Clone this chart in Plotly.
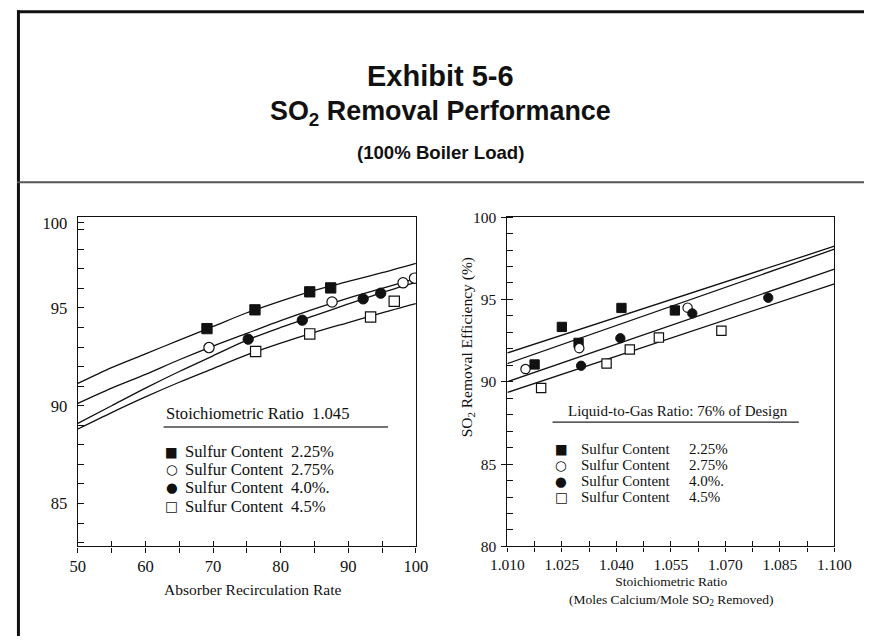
import plotly.graph_objects as go

W, H = 882, 644

# ---------------- Left chart data (Stoichiometric ratio 1.045) ----------------
rate_225 = [69.1, 76.2, 84.3, 87.4]
eff_225 = [93.94, 94.90, 95.82, 96.02]
rate_275 = [69.4, 87.6, 98.1, 99.8]
eff_275 = [92.97, 95.30, 96.28, 96.52]
rate_40 = [75.2, 83.2, 92.2, 94.8]
eff_40 = [93.40, 94.37, 95.46, 95.75]
rate_45 = [76.3, 84.3, 93.3, 96.8]
eff_45 = [92.77, 93.67, 94.53, 95.34]

curve_rate = [50, 55, 60, 65, 70, 75, 80, 85, 90, 95, 100]
curve_225 = [91.14, 91.95, 92.65, 93.35, 94.05, 94.75, 95.35, 95.90, 96.35, 96.80, 97.28]
curve_275 = [90.12, 90.90, 91.60, 92.35, 93.05, 93.70, 94.35, 94.95, 95.50, 96.00, 96.50]
curve_40 = [89.10, 90.00, 90.90, 91.75, 92.55, 93.35, 94.00, 94.60, 95.20, 95.78, 96.30]
curve_45 = [88.81, 89.65, 90.45, 91.20, 91.90, 92.60, 93.20, 93.75, 94.25, 94.75, 95.22]

# ---------------- Right chart data (L/G ratio 76% of design) ----------------
sr_225 = [1.0175, 1.0250, 1.0296, 1.0414, 1.0561]
e2_225 = [91.05, 93.33, 92.36, 94.48, 94.33]
sr_275 = [1.0150, 1.0298, 1.0596]
e2_275 = [90.77, 92.04, 94.50]
sr_40 = [1.0303, 1.0411, 1.0609, 1.0818]
e2_40 = [90.97, 92.64, 94.15, 95.10]
sr_45 = [1.0193, 1.0373, 1.0437, 1.0517, 1.0689]
e2_45 = [89.62, 91.11, 91.96, 92.68, 93.10]

fit_sr = [1.010, 1.100]
fit_225 = [91.75, 98.23]
fit_275 = [91.10, 98.05]
fit_40 = [90.00, 96.84]
fit_45 = [89.35, 95.95]

# ---------------- Tick labels ----------------
left_xlabels = [50, 60, 70, 80, 90, 100]
left_xticks = [50, 55, 60, 65, 70, 75, 80, 85, 90, 95, 100]
left_yticks = [85, 90, 95, 99.35]
left_ytext = ["85", "90", "95", "100"]
right_xlabels = [1.010, 1.025, 1.040, 1.055, 1.070, 1.085, 1.100]
right_xtext = ["1.010", "1.025", "1.040", "1.055", "1.070", "1.085", "1.100"]
right_xticks = [1.010, 1.0175, 1.025, 1.0325, 1.040, 1.0475, 1.055, 1.0625,
                1.070, 1.0775, 1.085, 1.0925, 1.100]
right_yticks = [80, 85, 90, 95, 100]

legend_values = ["2.25%", "2.75%", "4.0%.", "4.5%"]
legend_glyphs = ["\u25A0", "\u25CB", "\u25CF", "\u25A1"]

SERIF = "Liberation Serif, Times New Roman, serif"
SANS = "Liberation Sans, Arial, sans-serif"
BLACK = "#111111"

# The photographed page appears slightly shrunk; place items by their target
# picture position and convert back to page pixels.
SX, OX = 0.963, 16.0
SY, OY = 0.977, 7.2
FS = 1.035  # font/marker compensation


def px(X):
    return max(0.0, min(1.0, ((X - OX) / SX) / W))


def py(Y):
    return max(0.0, min(1.0, 1 - ((Y - OY) / SY) / H))


def fs(s):
    return round(s * FS, 1)


fig = go.Figure()

styles = [
    dict(symbol="square", color=BLACK, line=dict(color=BLACK, width=1)),
    dict(symbol="circle", color="white", line=dict(color=BLACK, width=1.2)),
    dict(symbol="circle", color=BLACK, line=dict(color=BLACK, width=1)),
    dict(symbol="square", color="white", line=dict(color=BLACK, width=1.2)),
]

for cyv in [curve_225, curve_275, curve_40, curve_45]:
    fig.add_trace(go.Scatter(x=curve_rate, y=cyv, mode="lines", xaxis="x", yaxis="y",
                             line=dict(color=BLACK, width=1.3, shape="spline", smoothing=0.8),
                             hoverinfo="skip"))
for (xs, ys), st in zip([(rate_225, eff_225), (rate_275, eff_275), (rate_40, eff_40),
                         (rate_45, eff_45)], styles):
    fig.add_trace(go.Scatter(x=xs, y=ys, mode="markers", xaxis="x", yaxis="y",
                             marker=dict(size=fs(10), **st)))

for fy in [fit_225, fit_275, fit_40, fit_45]:
    fig.add_trace(go.Scatter(x=fit_sr, y=fy, mode="lines", xaxis="x2", yaxis="y2",
                             line=dict(color=BLACK, width=1.3), hoverinfo="skip"))
for (xs, ys), st in zip([(sr_225, e2_225), (sr_275, e2_275), (sr_40, e2_40),
                         (sr_45, e2_45)], styles):
    fig.add_trace(go.Scatter(x=xs, y=ys, mode="markers", xaxis="x2", yaxis="y2",
                             marker=dict(size=fs(9), **st)))

fig.add_trace(go.Scatter(x=[None], y=[None], xaxis="x3", yaxis="y", showlegend=False))
fig.add_trace(go.Scatter(x=[None], y=[None], xaxis="x4", yaxis="y2", showlegend=False))

axis_common = dict(showgrid=False, zeroline=False, showline=True, linecolor=BLACK,
                   linewidth=1.2, mirror=True, tickcolor=BLACK, fixedrange=True)

ydom = [py(546.5), py(216)]

fig.update_layout(
    width=W, height=H, margin=dict(l=0, r=0, t=0, b=0),
    paper_bgcolor="white", plot_bgcolor="white", showlegend=False,
    xaxis=dict(domain=[px(77), px(416)], range=[50, 100], anchor="y",
               tickmode="array", tickvals=left_xlabels,
               ticks="outside", ticklen=5, tickwidth=1.2,
               minor=dict(ticks="outside", ticklen=5, dtick=5, tick0=50, tickcolor=BLACK,
                          tickwidth=1.2),
               tickfont=dict(family=SERIF, size=fs(16), color=BLACK), **axis_common),
    xaxis3=dict(overlaying="x", range=[50, 100], anchor="y", side="bottom",
                tickmode="array", tickvals=left_xticks, ticks="inside", ticklen=5,
                tickwidth=1.2, tickcolor=BLACK, showticklabels=False, showline=False,
                showgrid=False, zeroline=False, fixedrange=True),
    yaxis=dict(domain=ydom, range=[82.81, 99.64], anchor="x",
               tickmode="array", tickvals=left_yticks, ticktext=left_ytext,
               ticks="inside", ticklen=6, tickwidth=1.2, ticklabelstandoff=6,
               minor=dict(ticks="inside", ticklen=6, dtick=1, tick0=0, tickcolor=BLACK,
                          tickwidth=1.2),
               tickfont=dict(family=SERIF, size=fs(16), color=BLACK), **axis_common),
    xaxis2=dict(domain=[px(507.7), px(835.7)], range=[1.010, 1.100], anchor="y2",
                tickmode="array", tickvals=right_xlabels, ticktext=right_xtext,
                ticks="outside", ticklen=4, tickwidth=1.2,
                minor=dict(ticks="outside", ticklen=4, dtick=0.0075, tick0=1.010,
                           tickcolor=BLACK, tickwidth=1.2),
                tickfont=dict(family=SERIF, size=fs(15), color=BLACK), **axis_common),
    xaxis4=dict(overlaying="x2", range=[1.010, 1.100], anchor="y2", side="bottom",
                tickmode="array", tickvals=right_xticks, ticks="inside", ticklen=5,
                tickwidth=1.2, tickcolor=BLACK, showticklabels=False, showline=False,
                showgrid=False, zeroline=False, fixedrange=True),
    yaxis2=dict(domain=ydom, range=[80, 100], anchor="x2",
                tickmode="array", tickvals=right_yticks,
                ticks="outside", ticklen=5, tickwidth=1.2, ticklabelstandoff=2,
                minor=dict(ticks="inside", ticklen=6, dtick=1, tick0=0, tickcolor=BLACK,
                           tickwidth=1.2),
                tickfont=dict(family=SERIF, size=fs(15), color=BLACK), **axis_common),
)

ann = []


def text(x, y, s, size, family=SERIF, xanchor="center", angle=0):
    ann.append(dict(x=px(x), y=py(y), xref="paper", yref="paper", text=s, showarrow=False,
                    xanchor=xanchor, yanchor="middle", textangle=angle,
                    font=dict(family=family, size=fs(size), color=BLACK)))


# Title block
text(441, 74, "<b>Exhibit 5-6</b>", 28, SANS)
text(441, 112, "<b>SO<sub>2</sub> Removal Performance</b>", 26, SANS)
text(441, 151, "<b>(100% Boiler Load)</b>", 18, SANS)

# Left chart texts
text(163, 413, "Stoichiometric Ratio\u00a0\u00a01.045", 16, xanchor="left")
left_rows = [451.7, 469.3, 487.3, 506]
for yy, g, v in zip(left_rows, legend_glyphs, legend_values):
    text(171, yy, g, 13, "DejaVu Sans, Liberation Sans")
    text(182, yy, "Sulfur Content", 16, xanchor="left")
    text(289, yy, v, 16, xanchor="left")
text(252, 590, "Absorber Recirculation Rate", 15)

# Right chart texts
text(567, 410.7, "Liquid-to-Gas Ratio: 76% of Design", 14.5, xanchor="left")
right_rows = [448.3, 464.3, 480.7, 496.7]
for yy, g, v in zip(right_rows, legend_glyphs, legend_values):
    text(562, yy, g, 13, "DejaVu Sans, Liberation Sans")
    text(580, yy, "Sulfur Content", 14.5, xanchor="left")
    text(688, yy, v, 14.5, xanchor="left")
ann.append(dict(x=px(672), y=py(591), xref="paper", yref="paper",
                text="Stoichiometric Ratio<br>(Moles Calcium/Mole SO<sub>2</sub> Removed)",
                showarrow=False, xanchor="center", yanchor="middle", align="center",
                font=dict(family=SERIF, size=fs(13), color=BLACK)))
text(468, 347, "SO<sub>2</sub> Removal Efficiency (%)", 15, angle=-90)

fig.update_layout(annotations=ann)

shapes = [
    dict(type="line", xref="paper", yref="paper", x0=0.0017, x1=0.0017, y0=py(8.5), y1=0,
         line=dict(color=BLACK, width=3)),
    dict(type="line", xref="paper", yref="paper", x0=0, x1=1, y0=py(10), y1=py(10),
         line=dict(color=BLACK, width=3)),
    dict(type="line", xref="paper", yref="paper", x0=0, x1=1, y0=py(181), y1=py(181),
         line=dict(color="#555555", width=2)),
    dict(type="line", xref="paper", yref="paper", x0=px(163), x1=px(388), y0=py(426.7),
         y1=py(426.7), line=dict(color="#444444", width=1.5)),
    dict(type="line", xref="paper", yref="paper", x0=px(553), x1=px(800), y0=py(421.7),
         y1=py(421.7), line=dict(color="#222222", width=1.3)),
]
fig.update_layout(shapes=shapes)

fig.write_html("out.html", config={"displayModeBar": False},
               post_script="document.body.style.margin='0';document.body.style.overflow='hidden';")
